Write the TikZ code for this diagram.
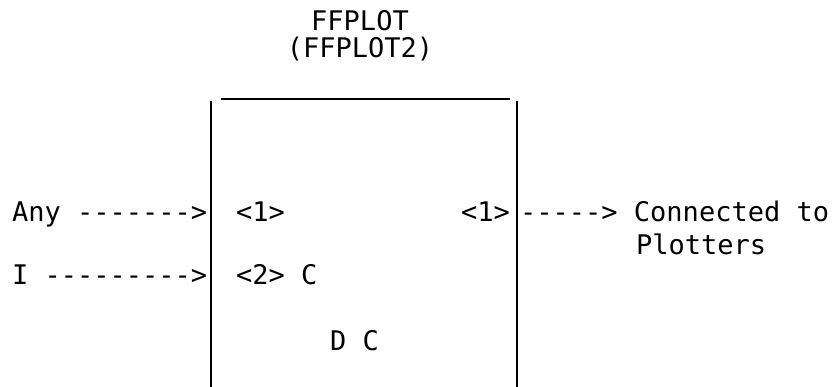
\documentclass[tikz,border=0pt]{standalone}
\usepackage{fontspec}
\setmonofont{DejaVu Sans Mono}
\usetikzlibrary{positioning}

\begin{document}
\begin{tikzpicture}[x=1pt, y=-1pt, every node/.style={font=\ttfamily\fontsize{27}{32}\selectfont, inner sep=0pt, anchor=base west}, box/.style={line width=1.6pt}]
    \useasboundingbox (0,0) rectangle (835,387);
    % title
    \node (T1) at (360,31) [anchor=base] {FFPLOT};
    \node (T2) at (360,58) [anchor=base] {(FFPLOT2)};
    % box
    \coordinate (LT) at (211,101);
    \coordinate (LB) at (211,387);
    \coordinate (RT) at (517,101);
    \coordinate (RB) at (517,387);
    \draw[box] (LT) -- (LB);
    \draw[box] (RT) -- (RB);
    \draw[box] (221,99) -- (510,99);
    % inputs
    \node (In1) at (12,222) {Any ------->};
    \node (In2) at (12,284) {I --------->};
    \node (P1) at (236,222) {<1>};
    \node (P2) at (236,284) {<2> C};
    \node (DC) at (330,350) {D C};
    % output
    \node (Q1) at (461,222) {<1>};
    \node (Out) at (520,222) {-----> Connected to};
    \node (Out2) at (636,255) {Plotters};
\end{tikzpicture}
\end{document}
